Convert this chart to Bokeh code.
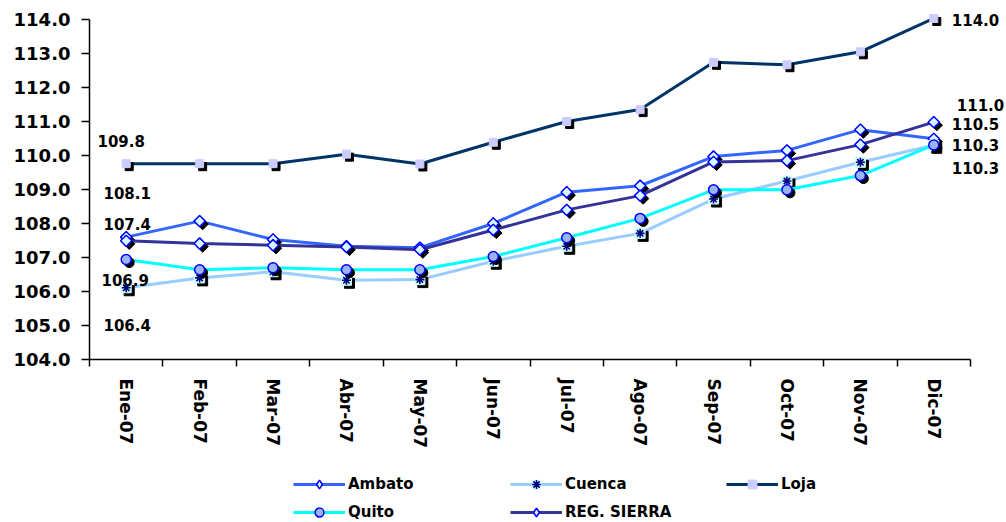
import numpy as np
from bokeh.plotting import figure
from bokeh.models import (Range1d, FixedTicker, Legend, LegendItem, Label, LinearAxis,
                          ColumnDataSource, NumeralTickFormatter)
from bokeh.transform import dodge
from bokeh.embed import file_html
from bokeh.resources import INLINE

# ---------------- data ----------------
months = ["Ene-07", "Feb-07", "Mar-07", "Abr-07", "May-07", "Jun-07",
          "Jul-07", "Ago-07", "Sep-07", "Oct-07", "Nov-07", "Dic-07"]
ambato = [107.60, 108.07, 107.53, 107.33, 107.29, 108.00, 108.92, 109.11, 109.97, 110.15, 110.76, 110.49]
cuenca = [106.11, 106.40, 106.58, 106.33, 106.35, 106.89, 107.33, 107.71, 108.72, 109.25, 109.80, 110.30]
loja = [109.76, 109.76, 109.76, 110.04, 109.75, 110.39, 111.00, 111.35, 112.74, 112.67, 113.05, 114.03]
quito = [106.94, 106.64, 106.70, 106.64, 106.64, 107.03, 107.58, 108.15, 108.99, 108.99, 109.41, 110.31]
sierra = [107.49, 107.41, 107.36, 107.31, 107.23, 107.81, 108.40, 108.82, 109.81, 109.85, 110.32, 110.98]

left_labels = ["109.8", "108.1", "107.4", "106.9", "106.4"]
right_labels = ["114.0", "111.0", "110.5", "110.3", "110.3"]

y_ticks = [104, 105, 106, 107, 108, 109, 110, 111, 112, 113, 114]

# ---------------- layout (pixels) ----------------
W, H = 1006, 522
PL, PR, PT, PB = 89, 970, 19, 359   # plot area in canvas pixels

n = len(months)
centers = np.arange(n) + 0.5
bounds = np.arange(n + 1)
y0, y1 = min(y_ticks), max(y_ticks)

xs = (PR - PL) / n
ys = (PB - PT) / (y1 - y0)
x_range = Range1d(-PL / xs, n + (W - PR) / xs)
y_range = Range1d(y0 - (H - PB) / ys, y1 + PT / ys)

src = ColumnDataSource(dict(x=centers, Ambato=ambato, Cuenca=cuenca, Loja=loja,
                            Quito=quito, Sierra=sierra))

FONT = "DejaVu Sans"

p = figure(width=W, height=H, output_backend="svg", toolbar_location=None, title=None,
           x_range=x_range, y_range=y_range, x_axis_type=None, y_axis_type=None,
           min_border=0)
p.outline_line_color = None
p.background_fill_color = "white"
p.border_fill_color = "white"

# axes drawn at fixed data locations
xa = LinearAxis(fixed_location=y0, bounds=(0, n))
xa.ticker = FixedTicker(ticks=list(centers), minor_ticks=list(bounds))
xa.major_label_overrides = {float(c): m for c, m in zip(centers, months)}
xa.major_tick_line_color = None
xa.major_tick_out = 0
xa.major_tick_in = 0
xa.minor_tick_out = 7
xa.minor_tick_in = 0
xa.minor_tick_line_color = "black"
xa.minor_tick_line_width = 1.5
xa.major_label_orientation = "vertical"
xa.major_label_standoff = 12
xa.major_label_text_font = FONT
xa.major_label_text_font_style = "bold"
xa.major_label_text_font_size = "17px"
xa.major_label_text_color = "black"
xa.axis_line_width = 1.5
xa.axis_line_color = "black"
p.add_layout(xa, "below")

ya = LinearAxis(fixed_location=0, bounds=(y0, y1))
ya.ticker = FixedTicker(ticks=y_ticks)
ya.formatter = NumeralTickFormatter(format="0.0")
ya.major_tick_out = 8
ya.major_tick_in = 0
ya.minor_tick_line_color = None
ya.major_tick_line_width = 1.5
ya.major_label_standoff = 11
ya.major_label_text_font = FONT
ya.major_label_text_font_style = "bold"
ya.major_label_text_font_size = "18px"
ya.major_label_text_color = "black"
ya.axis_line_width = 1.5
ya.axis_line_color = "black"
p.add_layout(ya, "left")

DX, DY = 3 / xs, -3 / ys  # shadow offset (3px right, 3px down)
LW = 3
DIAMOND_FILL, MARK_EDGE = "#D9FAFF", "#0000FF"

def shadow(col, marker, size, angle=0.0):
    p.scatter(x=dodge("x", DX), y=dodge(col, DY), source=src, marker=marker, size=size,
              angle=angle, fill_color="black", line_color="black")

def legend_diamond(col):
    # invisible renderer used only to draw a diamond in the legend
    return p.scatter("x", col, source=src, marker="diamond", fill_color=DIAMOND_FILL,
                     line_color=MARK_EDGE, line_width=1.5, visible=False)

# Ambato
l_amb = p.line("x", "Ambato", source=src, line_color="#3366FF", line_width=LW)
shadow("Ambato", "square", 8, np.pi / 4)
m_amb = p.scatter("x", "Ambato", source=src, marker="square", angle=np.pi / 4, size=8,
                  fill_color=DIAMOND_FILL, line_color=MARK_EDGE, line_width=1.5)
g_amb = legend_diamond("Ambato")

# Cuenca
l_cue = p.line("x", "Cuenca", source=src, line_color="#99CCFF", line_width=LW)
shadow("Cuenca", "square", 10)
m_cue = p.scatter("x", "Cuenca", source=src, marker="square", size=10,
                  fill_color="#CCFFFF", line_color="#CCFFFF")
m_cue2 = p.scatter("x", "Cuenca", source=src, marker="asterisk", size=9,
                   line_color="#000080", line_width=1.6)

# Loja
l_loj = p.line("x", "Loja", source=src, line_color="#003366", line_width=LW)
shadow("Loja", "square", 8)
m_loj = p.scatter("x", "Loja", source=src, marker="square", size=8,
                  fill_color="#CCCCFF", line_color="#CCCCFF")

# Quito
l_qui = p.line("x", "Quito", source=src, line_color="#00FFFF", line_width=LW)
shadow("Quito", "circle", 10)
m_qui = p.scatter("x", "Quito", source=src, marker="circle", size=10,
                  fill_color="#9BB5F2", line_color=MARK_EDGE, line_width=1.5)

# REG. SIERRA
l_sie = p.line("x", "Sierra", source=src, line_color="#333399", line_width=LW)
shadow("Sierra", "square", 8, np.pi / 4)
m_sie = p.scatter("x", "Sierra", source=src, marker="square", angle=np.pi / 4, size=8,
                  fill_color=DIAMOND_FILL, line_color=MARK_EDGE, line_width=1.5)
g_sie = legend_diamond("Sierra")

# data labels (first and last months)
lab_kw = dict(text_font=FONT, text_font_style="bold", text_font_size="15px",
              text_color="black", text_baseline="middle")
left_series = [loja, ambato, sierra, quito, cuenca]
left_off = [(-5, 23), (1, 44), (1, 17), (-1, -20), (1, -37)]
for txt, s, (dx, dy) in zip(left_labels, left_series, left_off):
    p.add_layout(Label(x=centers[0], y=s[0], x_offset=dx, y_offset=dy, text=txt,
                       text_align="center", **lab_kw))

right_series = [loja, sierra, ambato, quito, cuenca]
right_off = [(18, -2), (23, 17), (18, 15), (18, 0), (18, -23)]
for txt, s, (dx, dy) in zip(right_labels, right_series, right_off):
    p.add_layout(Label(x=centers[-1], y=s[-1], x_offset=dx, y_offset=dy, text=txt,
                       text_align="left", **lab_kw))

# legends (positions in canvas pixels from bottom-left)
leg_kw = dict(glyph_width=52, glyph_height=22, label_height=22, label_standoff=3,
              spacing=6, padding=0, margin=0, border_line_color=None,
              background_fill_alpha=0, inactive_fill_alpha=0, label_text_font=FONT,
              label_text_font_style="bold", label_text_font_size="15px",
              label_text_color="black")

leg1 = Legend(items=[LegendItem(label="Ambato", renderers=[l_amb, g_amb]),
                     LegendItem(label="Quito", renderers=[l_qui, m_qui])],
              location=(293, -1), **leg_kw)
leg2 = Legend(items=[LegendItem(label="Cuenca", renderers=[l_cue, m_cue, m_cue2]),
                     LegendItem(label="REG. SIERRA", renderers=[l_sie, g_sie])],
              location=(510, -1), **leg_kw)
leg3 = Legend(items=[LegendItem(label="Loja", renderers=[l_loj, m_loj])],
              location=(726, 27), **leg_kw)
for lg in (leg1, leg2, leg3):
    p.add_layout(lg)

open("out.html", "w").write(file_html(p, INLINE))
